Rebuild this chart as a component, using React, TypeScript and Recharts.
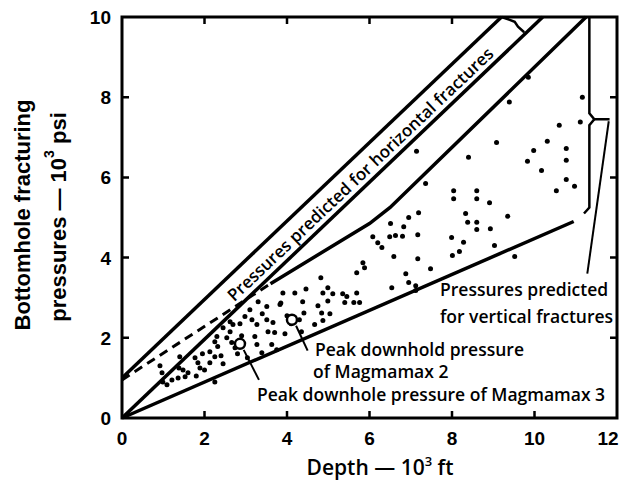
import React from 'react';
import { ScatterChart, Scatter, XAxis, YAxis } from 'recharts';

const X_TICKS = [0, 2, 4, 6, 8, 10, 12];
const Y_TICKS = [0, 2, 4, 6, 8, 10];
const BOTTOM_MARKS = [2, 4, 6, 8, 10];
const TOP_MARKS = [2, 4, 6, 8];
const SIDE_MARKS = [2, 4, 6, 8];

// depth (10^3 ft), pressure (10^3 psi)
const FIELD: [number, number][] = [
  [9.39, 7.88], [9.85, 8.5], [11.16, 8.0], [11.11, 7.38], [10.6, 7.3], [10.31, 6.9], [9.98, 6.67],
  [9.08, 6.87], [8.4, 6.5], [7.14, 6.65], [10.77, 6.72], [10.77, 6.43], [9.83, 6.4], [10.17, 6.17],
  [10.77, 5.95], [10.97, 5.78], [10.53, 5.67], [7.36, 5.85], [8.04, 5.67], [8.04, 5.47], [8.6, 5.67],
  [8.6, 5.47], [8.91, 5.37], [8.33, 5.1], [9.35, 5.03], [8.38, 4.88], [8.6, 4.88], [8.6, 4.7],
  [8.93, 4.72], [7.19, 5.12], [6.95, 5.0], [6.51, 4.85], [6.83, 4.77], [7.17, 4.57], [6.63, 4.55],
  [6.8, 4.53], [7.99, 4.5], [8.28, 4.38], [8.18, 4.15], [8.01, 4.05], [9.03, 4.3], [9.52, 4.03],
  [6.08, 4.52], [6.2, 4.37], [6.3, 4.25], [6.49, 4.52], [6.59, 4.03], [7.17, 3.97], [5.84, 3.87],
  [5.88, 3.75], [5.69, 3.62], [6.88, 3.6], [7.48, 3.72], [6.54, 3.25], [6.95, 3.38], [7.12, 3.3],
  [7.12, 3.18], [5.69, 3.12], [5.45, 3.03], [5.4, 2.88], [5.62, 2.88], [5.76, 2.88], [4.82, 3.5],
  [4.99, 3.25], [4.87, 3.12], [5.11, 3.1], [4.99, 2.92], [5.35, 3.1], [4.46, 3.22], [3.9, 3.12],
  [4.19, 3.12], [4.38, 2.9], [4.41, 2.62], [4.75, 2.8], [4.84, 2.62], [4.87, 2.43], [4.67, 2.33],
  [3.51, 2.78], [3.83, 2.83], [5.04, 2.6], [2.98, 2.53], [3.15, 2.45], [3.27, 2.33], [2.69, 2.33],
  [2.86, 2.35], [3.51, 2.45], [3.66, 2.38], [3.54, 2.15], [3.7, 2.13], [3.22, 2.03], [3.63, 1.83],
  [3.75, 1.7], [3.39, 1.63], [2.62, 2.15], [2.54, 2.0], [2.66, 1.88], [2.74, 1.75], [2.3, 2.03],
  [2.25, 1.9], [2.32, 1.78], [3.04, 1.5], [3.27, 1.83], [2.13, 1.65], [2.25, 1.53], [2.13, 1.38],
  [1.77, 1.5], [1.84, 1.38], [1.89, 1.25], [2.25, 0.9], [1.48, 1.2], [1.6, 1.13], [1.53, 1.03],
  [1.38, 1.25], [1.21, 0.95], [1.36, 1.0], [1.09, 0.83], [0.99, 0.9], [0.97, 1.13], [0.92, 1.3],
  [1.4, 1.53], [2.45, 2.25], [2.62, 2.4], [1.95, 1.6], [2.4, 1.55], [2.45, 1.35], [2.8, 1.6],
  [2.9, 2.05], [3.1, 2.7], [3.3, 2.9], [3.4, 2.6], [4.0, 2.55], [4.1, 2.35], [3.95, 2.1], [4.3, 2.45],
  [4.35, 2.15], [3.85, 2.87], [1.8, 1.05], [2.0, 1.2],
];
const MAGMAMAX_2: [number, number][] = [[4.12, 2.45]];
const MAGMAMAX_3: [number, number][] = [[2.86, 1.85]];

// predicted-pressure lines
const HORIZ_UPPER: [number, number][] = [[0, 1.0], [9.2, 10]];
const HORIZ_LOWER: [number, number][] = [[0, 0], [10.2, 10]];
const VERT_UPPER_DASH: [number, number][] = [[0, 0.95], [3.6, 3.35]];
const VERT_UPPER: [number, number][] = [[3.6, 3.35], [6.0, 4.85], [6.5, 5.25], [11.25, 10]];
const VERT_LOWER: [number, number][] = [[0, 0], [10.95, 4.9]];

// braces and leaders
const HORIZ_BRACE: [number, number][] = [[9.2, 10], [9.4, 9.93], [9.52, 9.88], [9.6, 9.76], [9.75, 9.62]];
const VERT_BRACE_TOP: [number, number][] = [[11.33, 10], [11.33, 7.6], [11.45, 7.45], [11.82, 7.45]];
const VERT_BRACE_BOTTOM: [number, number][] = [[11.45, 7.45], [11.33, 7.3], [11.33, 5.25], [11.2, 5.1]];
const VERT_LEADER: [number, number][] = [[11.8, 7.4], [11.28, 3.6]];
const M2_LEADER: [number, number][] = [[4.22, 2.3], [4.5, 1.68]];
const M3_LEADER: [number, number][] = [[2.95, 1.7], [3.32, 0.95]];

const pts = (a: [number, number][]) => a.map(([x, y]) => ({ x, y }));

const W = 611, H = 478;
const M = { top: 9, right: 2, left: 0, bottom: 0 };
const Y_W = 114, X_H = 68;
// plot box in svg pixels (same numbers recharts lays out from the margins above)
const PL = M.left + Y_W, PT = M.top, PR = W - M.right, PB = H - X_H;
const sx = (x: number) => PL + (x / 12) * (PR - PL);
const sy = (y: number) => PB - (y / 10) * (PB - PT);

const TICK_FONT = { fontFamily: '"Liberation Sans", Arial, sans-serif', fontWeight: 700, fontSize: 19, fill: '#000' };
const NOTE_FONT = { fontFamily: '"Open Sans", sans-serif', fontWeight: 600, fontSize: 17.5, fill: '#000' };
const TITLE_FONT = { fontFamily: '"Liberation Sans", Arial, sans-serif', fontWeight: 700, fontSize: 22, fill: '#000' };

const noDot = () => <g />;
const openCircle = (p: any) => <circle cx={p.cx} cy={p.cy} r={5} fill="#fff" stroke="#000" strokeWidth={2.5} />;
const fieldDot = (p: any) => <circle cx={p.cx} cy={p.cy} r={2.5} fill="#000" />;

const bottomTick = (p: any) => {
  const v = p.payload.value;
  return <text x={p.x} y={p.y + 27} dx={v === 12 ? -9 : 0} textAnchor="middle" style={TICK_FONT}>{v}</text>;
};
const leftTick = (p: any) => (
  <text x={p.x - 11} y={p.y + 7} textAnchor="end" style={TICK_FONT}>{p.payload.value}</text>
);

// frame and inward tick marks, laid over the chart
function Frame() {
  const d = [
    ...BOTTOM_MARKS.map((v) => `M${sx(v)},${PB}v-7`),
    ...TOP_MARKS.map((v) => `M${sx(v)},${PT}v7`),
    ...SIDE_MARKS.map((v) => `M${PL},${sy(v)}h7M${PR},${sy(v)}h-7`),
  ].join('');
  return (
    <svg width={W} height={H} style={{ position: 'absolute', left: 0, top: 0, pointerEvents: 'none' }}>
      <rect x={PL} y={PT} width={PR - PL} height={PB - PT} fill="none" stroke="#000" strokeWidth={3} />
      <path d={d} stroke="#000" strokeWidth={2.5} fill="none" />
    </svg>
  );
}

export default function App() {
  const line = (data: [number, number][], w: number, dash: string | undefined, key: string) => (
    <Scatter
      key={key}
      data={pts(data)}
      line={{ stroke: '#000', strokeWidth: w, strokeDasharray: dash }}
      lineType="joint"
      shape={noDot}
      isAnimationActive={false}
    />
  );
  return (
    <div style={{ width: W, height: H, position: 'relative' }}>
      <ScatterChart width={W} height={H} margin={M}>
        <XAxis type="number" dataKey="x" domain={[0, 12]} ticks={X_TICKS} interval={0} height={X_H}
          axisLine={false} tickLine={false} tickSize={0} tickMargin={0} tick={bottomTick} />
        <YAxis type="number" dataKey="y" domain={[0, 10]} ticks={Y_TICKS} interval={0} width={Y_W}
          axisLine={false} tickLine={false} tickSize={0} tickMargin={0} tick={leftTick} />

        {line(HORIZ_UPPER, 3.5, undefined, 'hu')}
        {line(HORIZ_LOWER, 3.5, undefined, 'hl')}
        {line(VERT_UPPER_DASH, 3, '9 6', 'vud')}
        {line(VERT_UPPER, 3.5, undefined, 'vu')}
        {line(VERT_LOWER, 3.5, undefined, 'vl')}
        {line(HORIZ_BRACE, 2.5, undefined, 'hb')}
        {line(VERT_BRACE_TOP, 2.5, undefined, 'vbt')}
        {line(VERT_BRACE_BOTTOM, 2.5, undefined, 'vbb')}
        {line(VERT_LEADER, 2, undefined, 'vld')}
        {line(M2_LEADER, 2, undefined, 'm2l')}
        {line(M3_LEADER, 2, undefined, 'm3l')}

        <Scatter data={pts(FIELD)} shape={fieldDot} isAnimationActive={false} />
        <Scatter data={pts(MAGMAMAX_2)} shape={openCircle} isAnimationActive={false} />
        <Scatter data={pts(MAGMAMAX_3)} shape={openCircle} isAnimationActive={false} />

        <text transform="translate(352,166) rotate(-43.5)" textAnchor="middle" dominantBaseline="central"
          style={{ ...NOTE_FONT, fontSize: 17 }}>Pressures predicted for horizontal fractures</text>
        <text x={307} y={348} style={NOTE_FONT}>Peak downhold pressure</text>
        <text x={305} y={370} style={NOTE_FONT}>of Magmamax 2</text>
        <text x={249} y={393} style={NOTE_FONT}>Peak downhole pressure of Magmamax 3</text>
        <text x={432} y={288} style={NOTE_FONT}>Pressures predicted</text>
        <text x={432} y={315} style={NOTE_FONT}>for vertical fractures</text>

        <text x={372} y={467} textAnchor="middle" style={{ ...NOTE_FONT, fontSize: 21 }}>
          Depth — 10<tspan dy={-9} fontSize={13}>3</tspan><tspan dy={9}> ft</tspan>
        </text>
        <text transform="translate(14,207) rotate(-90)" textAnchor="middle" dominantBaseline="central" style={TITLE_FONT}>
          Bottomhole  fracturing
        </text>
        <text transform="translate(50,209) rotate(-90)" textAnchor="middle" dominantBaseline="central" style={TITLE_FONT}>
          pressures — 10<tspan dy={-9} fontSize={14}>3</tspan><tspan dy={9}> psi</tspan>
        </text>
      </ScatterChart>
      <Frame />
    </div>
  );
}
